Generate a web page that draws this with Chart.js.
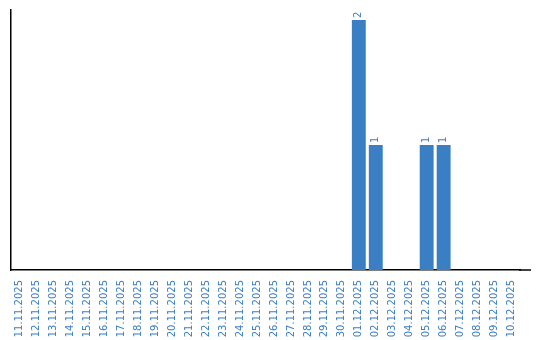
<!DOCTYPE html>
<html>
<head>
<meta charset="utf-8">
<script src="https://cdn.jsdelivr.net/npm/chart.js@4"></script>
<style>
  html, body { margin: 0; padding: 0; background: #fff; }
  #wrap { width: 540px; height: 340px; }
</style>
</head>
<body>
<div id="wrap"><canvas id="chart"></canvas></div>
<script>
const days = ['11.11.2025', '12.11.2025', '13.11.2025', '14.11.2025', '15.11.2025', '16.11.2025',
    '17.11.2025', '18.11.2025', '19.11.2025', '20.11.2025', '21.11.2025', '22.11.2025',
    '23.11.2025', '24.11.2025', '25.11.2025', '26.11.2025', '27.11.2025', '28.11.2025',
    '29.11.2025', '30.11.2025', '01.12.2025', '02.12.2025', '03.12.2025', '04.12.2025',
    '05.12.2025', '06.12.2025', '07.12.2025', '08.12.2025', '09.12.2025', '10.12.2025'];
const counts = [0, 0, 0, 0, 0, 0, 0, 0, 0, 0, 0, 0, 0, 0, 0, 0, 0, 0, 0, 0,
    2, 1, 0, 0, 1, 1, 0, 0, 0, 0];

const blue = '#3a7ec4';

// value above each bar, written upwards
const barLabels = {
    id: 'barLabels',
    afterDatasetsDraw(chart) {
        const ctx = chart.ctx;
        const meta = chart.getDatasetMeta(0);
        ctx.save();
        ctx.fillStyle = blue;
        ctx.font = '10px "DejaVu Sans"';
        ctx.textAlign = 'left';
        ctx.textBaseline = 'middle';
        meta.data.forEach((bar, i) => {
            if (!counts[i]) return;
            ctx.save();
            ctx.translate(bar.x, bar.y - 2);
            ctx.rotate(-Math.PI / 2);
            ctx.fillText(String(counts[i]), 0, 0);
            ctx.restore();
        });
        ctx.restore();
    }
};

// x axis line runs a bit past the last category
const axisTail = {
    id: 'axisTail',
    afterDraw(chart) {
        const a = chart.chartArea;
        const ctx = chart.ctx;
        ctx.save();
        ctx.strokeStyle = '#000';
        ctx.lineWidth = 1.5;
        ctx.beginPath();
        ctx.moveTo(a.right - 1, a.bottom);
        ctx.lineTo(a.right + 11, a.bottom);
        ctx.stroke();
        ctx.restore();
    }
};

new Chart(document.getElementById('chart'), {
    type: 'bar',
    data: {
        labels: days,
        datasets: [{
            data: counts,
            backgroundColor: blue,
            barPercentage: 0.82,
            categoryPercentage: 1,
        }],
    },
    options: {
        responsive: true,
        maintainAspectRatio: false,
        animation: false,
        layout: { padding: { left: 3, right: 20, top: 10, bottom: 0 } },
        plugins: {
            legend: { display: false },
            tooltip: { enabled: false },
        },
        scales: {
            x: {
                afterFit(scale) { scale.height = 70; },
                grid: { display: false },
                border: { display: true, color: '#000', width: 1.5 },
                ticks: {
                    color: blue,
                    font: { family: 'DejaVu Sans', size: 10 },
                    maxRotation: 90,
                    minRotation: 90,
                    autoSkip: false,
                    padding: 2,
                },
            },
            y: {
                min: 0,
                max: 2.08,
                grid: { display: false },
                border: { display: true, color: '#000', width: 1.5 },
                ticks: { display: false },
            },
        },
    },
    plugins: [barLabels, axisTail],
});
</script>
</body>
</html>
